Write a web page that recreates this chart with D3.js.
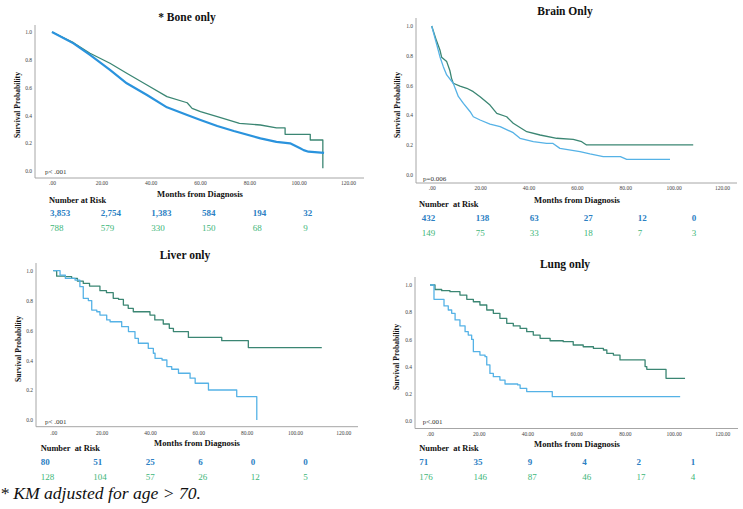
<!DOCTYPE html>
<html><head><meta charset="utf-8">
<script src="https://cdn.jsdelivr.net/npm/d3@7"></script>
<style>
body{margin:0;background:#fff}
svg{display:block}
</style>
</head><body>
<svg id="c" width="743" height="509"></svg>
<script>
// ---------- data ----------
const xTickValues = [0, 20, 40, 60, 80, 100, 120];
const xTickLabels = [".00", "20.00", "40.00", "60.00", "80.00", "100.00", "120.00"];
const yTickValues = [0, 0.2, 0.4, 0.6, 0.8, 1.0];
const yTickLabels = ["0.0", "0.2", "0.4", "0.6", "0.8", "1.0"];
const riskTimes = [0, 20, 40, 60, 80, 100];
const panelTitles = ["* Bone only", "Brain Only", "Liver only", "Lung only"];
const pValueTexts = ["p< .001", "p=0.006", "p< .001", "p<.001"];
const riskHeaders = ["Number at Risk", "Number\u00a0 at Risk", "Number\u00a0 at Risk", "Number\u00a0 at Risk"];
const xAxisTitle = "Months from Diagnosis";
const yAxisTitle = "Survival Probability";
const footnote = "* KM adjusted for age > 70.";

// [months, survival]
const boneBlue = [[0,1],[8.7,0.918],[15.4,0.835],[23.5,0.727],[30.3,0.631],[38.5,0.547],[46.6,0.458],[54.8,0.403],[60.2,0.367],[67,0.324],[73.7,0.288],[84.5,0.235],[91,0.21],[96.5,0.199],[100.6,0.163],[102,0.15],[104,0.139],[110.3,0.13]];
const boneGreen = [[0,1],[8.7,0.923],[15.4,0.847],[23.5,0.775],[30.3,0.703],[38.5,0.619],[46.6,0.535],[54.8,0.491],[56.8,0.451],[60.2,0.427],[67,0.391],[73.7,0.355],[76,0.343],[84.5,0.331],[91,0.31],[94.5,0.31],[94.5,0.264],[104.7,0.264],[104.7,0.223],[109.8,0.223],[109.8,0.02]];
const brainBlue = [[0,1],[2,0.88],[3.4,0.793],[4.8,0.726],[6.2,0.67],[8.9,0.614],[11,0.525],[13.1,0.478],[15.9,0.422],[17.2,0.388],[20,0.366],[24.1,0.339],[28.3,0.321],[33.7,0.281],[36.5,0.243],[42,0.22],[47.5,0.209],[50,0.209],[53,0.175],[61.3,0.153],[65.4,0.137],[70.9,0.119],[78,0.119],[80.6,0.101],[98.5,0.101]];
const brainGreen = [[0,1],[2,0.9],[3.4,0.838],[4.1,0.79],[6.2,0.76],[7.5,0.70],[8.2,0.647],[8.9,0.614],[11.7,0.595],[14.5,0.58],[17.2,0.557],[20,0.523],[24.1,0.467],[26.9,0.411],[31,0.388],[33.7,0.344],[39.3,0.287],[44.8,0.265],[51.7,0.243],[58.5,0.236],[62,0.22],[64,0.198],[108.1,0.198]];
const liverBlue = [[0,1],[2.8,0.97],[5,0.948],[9,0.937],[11,0.893],[12.4,0.815],[14.5,0.8],[15.9,0.736],[18,0.725],[19.3,0.703],[22.1,0.67],[23.5,0.658],[28.3,0.625],[31.1,0.592],[33.8,0.547],[35.2,0.514],[39.3,0.48],[41.4,0.447],[42.1,0.413],[45,0.402],[47,0.358],[49,0.34],[51.8,0.313],[56.6,0.28],[58.7,0.246],[64.2,0.201],[75.9,0.157],[84.2,0.0]];
const liverGreen = [[0,1],[1.4,0.963],[5,0.96],[7.6,0.948],[10,0.93],[12.4,0.915],[15,0.897],[19.3,0.866],[22,0.853],[24.8,0.815],[27,0.808],[29,0.77],[31,0.748],[33.1,0.725],[40,0.703],[42,0.67],[45.5,0.643],[48,0.614],[49.7,0.592],[55.9,0.553],[69.7,0.531],[80.7,0.485],[111.1,0.485]];
const lungBlue = [[0,1],[1.64,0.895],[5.75,0.846],[7.5,0.816],[8.9,0.792],[10.3,0.743],[12.3,0.699],[14.4,0.657],[15.7,0.632],[17.1,0.6],[17.8,0.51],[20.5,0.485],[22.6,0.473],[23.3,0.412],[24.6,0.35],[26,0.326],[28.7,0.301],[30.8,0.272],[36,0.265],[37,0.24],[39.7,0.216],[50.2,0.179],[102.7,0.179]];
const lungGreen = [[0,1],[2.05,0.967],[4.8,0.958],[8.2,0.951],[12.3,0.926],[15.1,0.895],[17.8,0.877],[20.5,0.853],[23.3,0.816],[26,0.792],[28.7,0.755],[31.5,0.718],[34.2,0.699],[37,0.681],[39.7,0.657],[42.4,0.632],[45.2,0.608],[49.3,0.59],[54.7,0.583],[58.8,0.559],[62.9,0.546],[67.1,0.534],[71.2,0.522],[72.6,0.497],[75.3,0.485],[78,0.449],[88.3,0.40],[89,0.38],[96.9,0.314],[104.7,0.314]];

const boneRiskBlue = [3853, 2754, 1383, 584, 194, 32];
const boneRiskGreen = [788, 579, 330, 150, 68, 9];
const brainRiskBlue = [432, 138, 63, 27, 12, 0];
const brainRiskGreen = [149, 75, 33, 18, 7, 3];
const liverRiskBlue = [80, 51, 25, 6, 0, 0];
const liverRiskGreen = [128, 104, 57, 26, 12, 5];
const lungRiskBlue = [71, 35, 9, 4, 2, 1];
const lungRiskGreen = [176, 146, 87, 46, 17, 4];

// ---------- layout ----------
const FONT = "'Liberation Serif', 'Times New Roman', 'DejaVu Serif', serif";
const layouts = [
  {titleX:187, titleY:21, x0:52, x120:348, y0:171, y1:32, axX:35, axTop:25, axY:178, axRight:364, tickPad:3.5,
   ylabX:17, ylabY:105, pX:45, pY:174, mX:200, mY:197, nX:49, nY:203, r1Y:216, r2Y:230.5, rL:50, rR:303.3,
   curve:d3.curveLinear, blueColor:"#2a93dd", blueW:2.2},
  {titleX:565, titleY:15, x0:431.7, x120:722, y0:174.3, y1:26, axX:416, axTop:18, axY:183, axRight:737, tickPad:3,
   ylabX:397, ylabY:105, pX:423, pY:181, mX:577, mY:203, nX:419, nY:206.5, r1Y:221, r2Y:236, rL:421.7, rR:691.7,
   curve:d3.curveLinear, blueColor:"#55b2e6", blueW:1.3},
  {titleX:185, titleY:259, x0:53.3, x120:343.3, y0:420, y1:270.7, axX:36, axTop:263, axY:426.7, axRight:358, tickPad:4,
   ylabX:18, ylabY:349, pX:45, pY:424, mX:197, mY:445.5, nX:40.7, nY:451, r1Y:465, r2Y:480, rL:40.7, rR:303.3,
   curve:d3.curveStepAfter, blueColor:"#55b2e6", blueW:1.3},
  {titleX:565, titleY:268, x0:430, x120:722.3, y0:421, y1:285, axX:415, axTop:277, axY:428.5, axRight:738, tickPad:3.5,
   ylabX:396, ylabY:357, pX:422.7, pY:424, mX:577, mY:446.5, nX:419.3, nY:451, r1Y:465, r2Y:480, rL:419.3, rR:690.7,
   curve:d3.curveStepAfter, blueColor:"#55b2e6", blueW:1.3}
];

const seriesBlue = [boneBlue, brainBlue, liverBlue, lungBlue];
const seriesGreen = [boneGreen, brainGreen, liverGreen, lungGreen];
const risksBlue = [boneRiskBlue, brainRiskBlue, liverRiskBlue, lungRiskBlue];
const risksGreen = [boneRiskGreen, brainRiskGreen, liverRiskGreen, lungRiskGreen];

const svg = d3.select("#c");
const fmt = d3.format(",");
const axisColor = "#a6a6a6";
const greenLine = "#3b8673";
const riskBlueColor = "#2b80c3";
const riskGreenColor = "#3db679";

layouts.forEach((L, i) => {
  const g = svg.append("g");
  const x = d3.scaleLinear().domain([0, 120]).range([L.x0, L.x120]);
  const y = d3.scaleLinear().domain([0, 1]).range([L.y0, L.y1]);

  g.append("line").attr("x1", L.axX).attr("x2", L.axX).attr("y1", L.axTop).attr("y2", L.axY)
    .attr("stroke", axisColor).attr("stroke-width", 1);
  g.append("line").attr("x1", L.axX).attr("x2", L.axRight).attr("y1", L.axY).attr("y2", L.axY)
    .attr("stroke", axisColor).attr("stroke-width", 1);

  const xa = g.append("g").attr("transform", `translate(0,${L.axY})`)
    .call(d3.axisBottom(x).tickValues(xTickValues).tickFormat((d, k) => xTickLabels[k]).tickSize(0).tickPadding(L.tickPad));
  xa.select(".domain").remove();
  xa.attr("font-family", FONT);
  xa.selectAll("text").attr("font-size", 5.5).attr("fill", "#444");

  const ya = g.append("g").attr("transform", `translate(${L.axX},0)`)
    .call(d3.axisLeft(y).tickValues(yTickValues).tickFormat((d, k) => yTickLabels[k]).tickSize(0).tickPadding(3));
  ya.select(".domain").remove();
  ya.attr("font-family", FONT);
  ya.selectAll("text").attr("font-size", 5.5).attr("fill", "#444");

  g.append("text").attr("x", L.titleX).attr("y", L.titleY).attr("text-anchor", "middle")
    .attr("font-size", 11.5).attr("font-weight", "bold").attr("fill", "#111").text(panelTitles[i]);

  g.append("text").attr("transform", `translate(${L.ylabX},${L.ylabY}) rotate(-90)`)
    .attr("text-anchor", "middle").attr("dy", "0.35em").attr("font-size", 7.6).attr("font-weight", "bold")
    .attr("fill", "#111").text(yAxisTitle);

  g.append("text").attr("x", L.mX).attr("y", L.mY).attr("text-anchor", "middle")
    .attr("font-size", 8.6).attr("font-weight", "bold").attr("fill", "#111").text(xAxisTitle);

  g.append("text").attr("x", L.pX).attr("y", L.pY).attr("font-size", 7).attr("fill", "#333").text(pValueTexts[i]);

  const line = d3.line().x(d => x(d[0])).y(d => y(d[1])).curve(L.curve);
  g.append("path").datum(seriesGreen[i]).attr("d", line).attr("fill", "none")
    .attr("stroke", greenLine).attr("stroke-width", 1.3).attr("stroke-linejoin", "round");
  g.append("path").datum(seriesBlue[i]).attr("d", line).attr("fill", "none")
    .attr("stroke", L.blueColor).attr("stroke-width", L.blueW).attr("stroke-linejoin", "round");

  g.append("text").attr("x", L.nX).attr("y", L.nY).attr("font-size", 8.4).attr("font-weight", "bold")
    .attr("fill", "#111").text(riskHeaders[i]);
  const rx = d3.scalePoint().domain(riskTimes).range([L.rL, L.rR]);
  g.selectAll(".rb").data(risksBlue[i]).join("text").attr("class", "rb")
    .attr("x", (d, k) => rx(riskTimes[k])).attr("y", L.r1Y)
    .attr("font-size", 9).attr("font-weight", "bold").attr("fill", riskBlueColor).text(d => fmt(d));
  g.selectAll(".rg").data(risksGreen[i]).join("text").attr("class", "rg")
    .attr("x", (d, k) => rx(riskTimes[k])).attr("y", L.r2Y)
    .attr("font-size", 9).attr("fill", riskGreenColor).text(d => fmt(d));
});

svg.append("text").attr("x", 0).attr("y", 499).attr("font-size", 17.6).attr("font-style", "italic")
  .attr("fill", "#111").text(footnote);

svg.selectAll("text").style("font-family", FONT);
</script>
</body></html>
